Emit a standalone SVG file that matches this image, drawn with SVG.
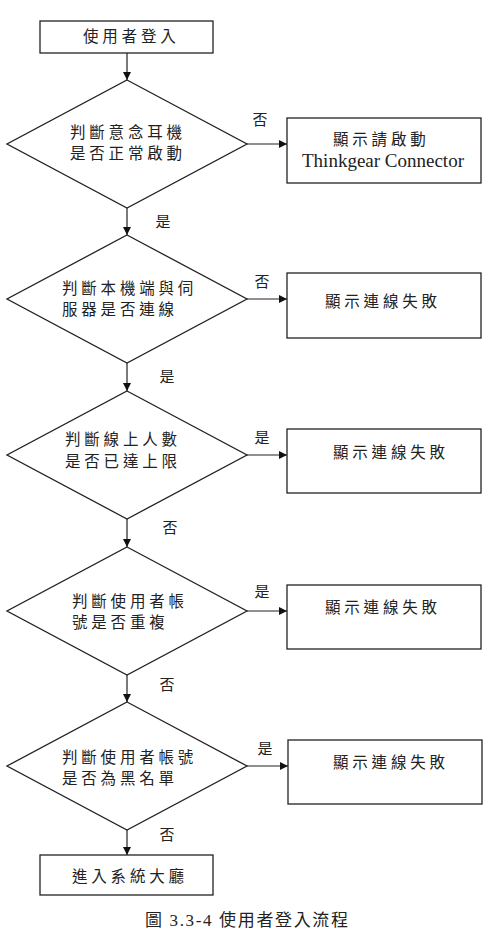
<svg xmlns="http://www.w3.org/2000/svg" width="491" height="930" viewBox="0 0 491 930">
<defs>
<marker id="ah" viewBox="0 0 10 10" refX="10" refY="5" markerWidth="8" markerHeight="8" markerUnits="userSpaceOnUse" orient="auto">
<path d="M0,0 L10,5 L0,10 z" fill="#111"/>
</marker>
<style>
.s{fill:#fff;stroke:#222;stroke-width:1.3}
.c{fill:none;stroke:#222;stroke-width:1.2;marker-end:url(#ah)}
.t{font-family:"Liberation Serif","Noto Sans CJK TC",serif;font-size:15.5px;fill:#222;letter-spacing:3.8px}
.l{font-family:"Liberation Serif","Noto Sans CJK TC",serif;font-size:15px;fill:#222;text-anchor:middle}
.e{font-family:"Liberation Serif",serif;font-size:19px;fill:#222}
</style>
</defs>
<rect width="491" height="930" fill="#fff"/>
<g id="connectors">
<line class="c" x1="127" y1="53" x2="127" y2="80"/>
<line class="c" x1="247" y1="144" x2="287" y2="144"/>
<line class="c" x1="127" y1="208" x2="127" y2="235"/>
<line class="c" x1="247" y1="299" x2="287" y2="299"/>
<line class="c" x1="127" y1="363" x2="127" y2="391"/>
<line class="c" x1="247" y1="455" x2="287" y2="455"/>
<line class="c" x1="127" y1="519" x2="127" y2="547"/>
<line class="c" x1="247" y1="611" x2="287" y2="611"/>
<line class="c" x1="127" y1="675" x2="127" y2="702"/>
<line class="c" x1="247" y1="766" x2="288" y2="766"/>
<line class="c" x1="127" y1="830" x2="127" y2="855"/>
<text class="l" x="260" y="125">否</text>
<text class="l" x="163" y="227">是</text>
<text class="l" x="262" y="287">否</text>
<text class="l" x="167" y="382">是</text>
<text class="l" x="262" y="443">是</text>
<text class="l" x="170" y="533">否</text>
<text class="l" x="262" y="597">是</text>
<text class="l" x="167" y="690">否</text>
<text class="l" x="265" y="754">是</text>
<text class="l" x="167" y="840">否</text>
</g>
<g id="start">
<rect class="s" x="40" y="21" width="173" height="32"/>
<text class="t" x="83" y="42">使用者登入</text>
</g>
<g id="d1">
<polygon class="s" points="127,80 247,144 127,208 7,144"/>
<text class="t" x="70" y="138">判斷意念耳機</text>
<text class="t" x="70" y="159">是否正常啟動</text>
</g>
<g id="b1">
<rect class="s" x="287" y="118" width="194" height="65"/>
<text class="t" x="333" y="145">顯示請啟動</text>
<text class="e" x="302" y="167">Thinkgear Connector</text>
</g>
<g id="d2">
<polygon class="s" points="127,235 247,299 127,363 7,299"/>
<text class="t" x="62" y="294">判斷本機端與伺</text>
<text class="t" x="62" y="315">服器是否連線</text>
</g>
<g id="b2">
<rect class="s" x="287" y="273" width="194" height="65"/>
<text class="t" x="325" y="307">顯示連線失敗</text>
</g>
<g id="d3">
<polygon class="s" points="127,391 247,455 127,519 7,455"/>
<text class="t" x="65" y="445">判斷線上人數</text>
<text class="t" x="65" y="467">是否已達上限</text>
</g>
<g id="b3">
<rect class="s" x="287" y="429" width="194" height="64"/>
<text class="t" x="333" y="458">顯示連線失敗</text>
</g>
<g id="d4">
<polygon class="s" points="127,547 247,611 127,675 7,611"/>
<text class="t" x="72" y="607">判斷使用者帳</text>
<text class="t" x="72" y="628">號是否重複</text>
</g>
<g id="b4">
<rect class="s" x="287" y="585" width="194" height="64"/>
<text class="t" x="325" y="613">顯示連線失敗</text>
</g>
<g id="d5">
<polygon class="s" points="127,702 247,766 127,830 7,766"/>
<text class="t" x="62" y="763">判斷使用者帳號</text>
<text class="t" x="62" y="784">是否為黑名單</text>
</g>
<g id="b5">
<rect class="s" x="288" y="740" width="194" height="64"/>
<text class="t" x="333" y="768">顯示連線失敗</text>
</g>
<g id="end">
<rect class="s" x="40" y="855" width="173" height="40"/>
<text class="t" x="72" y="882">進入系統大廳</text>
</g>
<text x="145" y="926" textLength="203" lengthAdjust="spacing" style="font-family:'Liberation Serif','Noto Sans CJK TC',serif;font-size:17px;fill:#222">圖 3.3-4 使用者登入流程</text>
</svg>
